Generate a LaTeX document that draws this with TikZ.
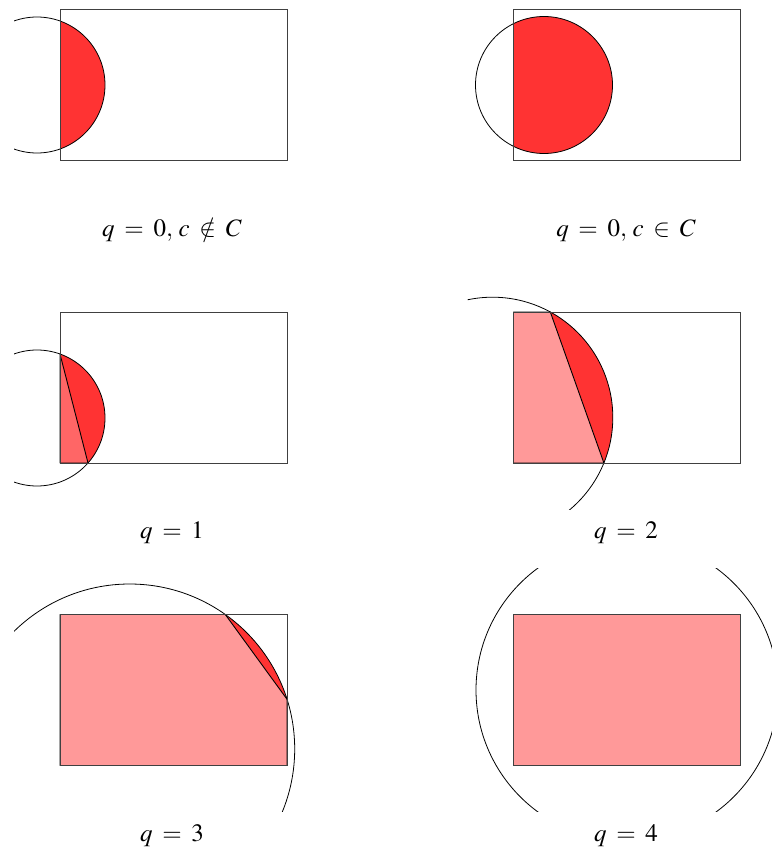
\documentclass[tikz,border=0pt]{standalone}
\usepackage{mathptmx}
\definecolor{segred}{HTML}{FF3333}
\definecolor{polypink}{HTML}{FF9999}
\definecolor{trired}{HTML}{FF6666}
\tikzset{
  boxline/.style={draw=black!75, line width=0.9pt},
  circline/.style={draw=black, line width=0.8pt},
  polyline/.style={draw=black, line width=0.9pt, line join=round},
  lbl/.style={anchor=base, inner sep=0pt, font=\fontsize{25}{29}\selectfont}
}
\begin{document}
\begin{tikzpicture}[x=1pt,y=-1pt]
\thickmuskip=7mu plus 2mu
\useasboundingbox (0,0) rectangle (771,853);
\fill[white] (0,0) rectangle (771,853);

% ---------- Panel 1: q=0, c not in C ----------
\begin{scope}
  \clip (60,9.5) rectangle (287,160.5);
  \fill[segred] (37,85) circle[radius=68pt];
\end{scope}
\begin{scope}
  \clip (14,-36.5) rectangle (333,206.5);
  \draw[circline] (37,85) circle[radius=68pt];
\end{scope}
\draw[boxline] (60,9.5) rectangle (287,160.5);
\node[lbl] (l1) at (172,236.5) {$q=0,\,c\notin C$};

% ---------- Panel 2: q=0, c in C ----------
\begin{scope}
  \clip (513.5,9.5) rectangle (740.5,160.5);
  \fill[segred] (544,85) circle[radius=68.5pt];
\end{scope}
\draw[circline] (544,85) circle[radius=68.5pt];
\draw[boxline] (513.5,9.5) rectangle (740.5,160.5);
\node[lbl] (l2) at (626,236.5) {$q=0,\,c\in C$};

% ---------- Panel 3: q=1 ----------
\begin{scope}
  \clip (60,312) rectangle (287,463);
  \fill[segred] (37,418) circle[radius=68pt];
\end{scope}
\fill[trired] (60,354) -- (60,463) -- (88,463) -- cycle;
\draw[polyline] (60,354) -- (60,463) -- (88,463) -- cycle;
\begin{scope}
  \clip (14,266) rectangle (333,509);
  \draw[circline] (37,418) circle[radius=68pt];
\end{scope}
\draw[boxline] (60,312) rectangle (287,463);
\node[lbl] (l3) at (172,538.5) {$q=1$};

% ---------- Panel 4: q=2 ----------
\begin{scope}
  \clip (513.5,312) rectangle (740.5,463);
  \fill[segred] (492.5,417.5) circle[radius=120.3pt];
\end{scope}
\fill[polypink] (513.5,312) -- (550.3,312) -- (603.9,463) -- (513.5,463) -- cycle;
\draw[polyline] (513.5,312) -- (550.3,312) -- (603.9,463) -- (513.5,463) -- cycle;
\begin{scope}
  \clip (467.5,266) rectangle (786.5,509);
  \draw[circline] (492.5,417.5) circle[radius=120.3pt];
\end{scope}
\draw[boxline] (513.5,312) rectangle (740.5,463);
\node[lbl] (l4) at (626,538.5) {$q=2$};

% ---------- Panel 5: q=3 ----------
\begin{scope}
  \clip (60,614.5) rectangle (287,765.5);
  \fill[segred] (129.7,749) circle[radius=165pt];
\end{scope}
\fill[polypink] (60,614.5) -- (225.3,614.5) -- (287,699.2) -- (287,765.5) -- (60,765.5) -- cycle;
\draw[polyline] (60,614.5) -- (225.3,614.5) -- (287,699.2) -- (287,765.5) -- (60,765.5) -- cycle;
\begin{scope}
  \clip (14,568.5) rectangle (333,811.5);
  \draw[circline] (129.7,749) circle[radius=165pt];
\end{scope}
\draw[boxline] (60,614.5) rectangle (287,765.5);
\node[lbl] (l5) at (172,841) {$q=3$};

% ---------- Panel 6: q=4 ----------
\fill[polypink] (513.5,614.5) rectangle (740.5,765.5);
\begin{scope}
  \clip (467.5,568.5) rectangle (786.5,811.5);
  \draw[circline] (627,690) circle[radius=151pt];
\end{scope}
\draw[boxline] (513.5,614.5) rectangle (740.5,765.5);
\node[lbl] (l6) at (626,841) {$q=4$};
\end{tikzpicture}
\end{document}
